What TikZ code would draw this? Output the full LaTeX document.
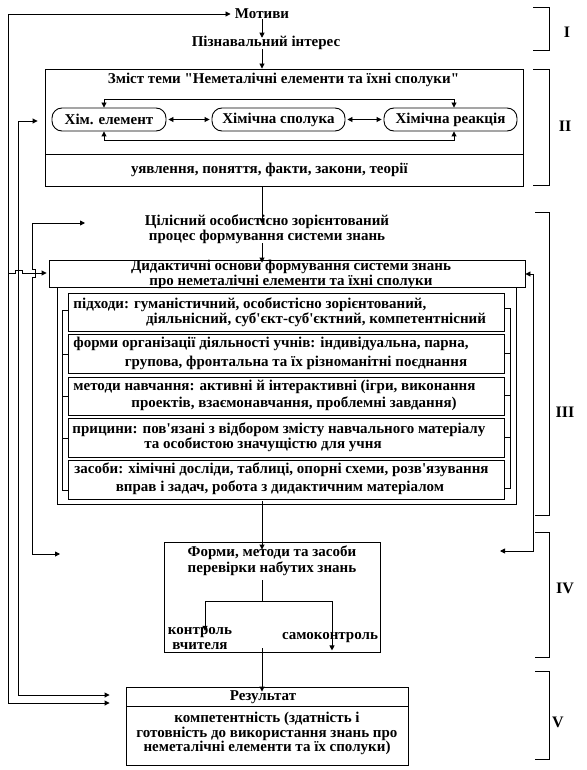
\documentclass[tikz,border=0pt]{standalone}
\usepackage{fontspec}
\setmainfont{Liberation Serif}
\usetikzlibrary{arrows.meta}
\newcommand{\ap}{\textquotesingle}
\begin{document}
\begin{tikzpicture}[x=1pt,y=-1pt,
  font=\bfseries\fontsize{15}{15}\selectfont,
  line width=0.9pt,
  arr/.style={-{Triangle[length=5pt,width=5pt]}},
  darr/.style={{Triangle[length=5pt,width=5pt]}-{Triangle[length=5pt,width=5pt]}},
  txt/.style={inner sep=0pt, align=center},
  ltxt/.style={inner sep=0pt, anchor=west},
  box/.style={draw, inner sep=0pt},
  pill/.style={draw, rounded corners=10pt, inner sep=0pt, minimum height=23pt},
  brk/.style={line width=0.9pt},
  lab/.style={inner sep=0pt, font=\bfseries\fontsize{16}{16}\selectfont}]
\useasboundingbox[fill=white] (0,0) rectangle (586,770);
\coordinate (ax) at (262,0);

% ---- Level I
\node[txt] (mot) at (262,14) {Мотиви};
\node[txt] (piz) at (266,43) {Пізнавальний інтерес};
\draw[arr] (mot.south -| ax) -- ([yshift=-2pt]piz.north -| ax);

% ---- Level II
\node[box, minimum width=478pt, minimum height=117pt] (zm) at (284,127.5) {};
\coordinate (zmdl) at (45,154);
\coordinate (zmdr) at (523,154);
\draw (zmdl) -- (zmdr);
\draw[arr] ([yshift=1pt]piz.south -| ax) -- (zm.north -| ax);
\node[txt] (zmt) at (283.5,80) {Зміст теми \textquotedbl Неметалічні елементи та їхні сполуки\textquotedbl};
\node[pill, minimum width=114pt] (el) at (109,119.5) {Хім. елемент};
\node[pill, minimum width=133pt] (sp) at (278.5,119.5) {Хімічна сполука};
\node[pill, minimum width=133pt] (re) at (450.5,119.5) {Хімічна реакція};
\draw[darr, shorten <=2pt, shorten >=2pt] (el) -- (sp);
\draw[darr, shorten <=2pt, shorten >=2pt] (sp) -- (re);
\coordinate (tl) at (104,99);
\coordinate (tr) at (454,99);
\coordinate (bl) at (104,140);
\coordinate (br) at (454,140);
\draw[darr] (tl |- el.north) -- (tl) -- (tr) -- (tr |- re.north);
\draw[darr] (bl |- el.south) -- (bl) -- (br) -- (br |- re.south);
\node[txt] (uy) at (269.5,170) {уявлення, поняття, факти, закони, теорії};

% ---- Level III
\node[txt] (ts) at (267,229.5) {Цілісний особистісно зорієнтований\\процес формування системи знань};
\draw[arr] (zm.south -| ax) -- ([yshift=-9pt]ts.north -| ax);
\node[box, minimum width=476pt, minimum height=27pt] (dyd) at (287,273.5) {};
\node[txt, font=\bfseries\fontsize{15}{13}\selectfont] (dydt) at (291,274.5) {Дидактичні основи формування системи знань\\про неметалічні елементи та їхні сполуки};
\draw[arr] ([yshift=1pt]ts.south -| ax) -- ([yshift=-3pt]dyd.north -| ax);
\node[box, minimum width=459pt, minimum height=217pt] (fr) at (286.5,395.5) {};

\node[box, minimum width=436pt, minimum height=38pt] (b1) at (286,312) {};
\node[box, minimum width=436pt, minimum height=39pt] (b2) at (286,353.5) {};
\node[box, minimum width=436pt, minimum height=38pt] (b3) at (286,396) {};
\node[box, minimum width=436pt, minimum height=39pt] (b4) at (286,437.5) {};
\node[box, minimum width=436pt, minimum height=39pt] (b5) at (286,479.5) {};

\node[ltxt] (b1a) at (73,305) {підходи: гуманістичний, особистісно зорієнтований,};
\node[txt] (b1b) at (316,320) {діяльнісний, суб\ap єкт-суб\ap єктний, компетентнісний};
\node[ltxt] (b2a) at (73,344) {форми організації діяльності учнів: індивідуальна, парна,};
\node[txt] (b2b) at (296,363) {групова, фронтальна та їх різноманітні поєднання};
\node[ltxt] (b3a) at (73,387) {методи навчання: активні й інтерактивні (ігри, виконання};
\node[txt] (b3b) at (294,404) {проектів, взаємонавчання, проблемні завдання)};
\node[ltxt] (b4a) at (72,430) {прицини: пов\ap язані з відбором змісту навчального матеріалу};
\node[txt] (b4b) at (263,445) {та особистою значущістю для учня};
\node[ltxt] (b5a) at (74,470) {засоби: хімічні досліди, таблиці, опорні схеми, розв\ap язування};
\node[txt] (b5b) at (280,488) {вправ і задач, робота з дидактичним матеріалом};

\coordinate (L1) at (62,310); \coordinate (L2) at (62,354); \coordinate (L3) at (62,396);
\coordinate (L4) at (62,438); \coordinate (L5) at (62,490);
\draw (L1 -| b1.west) -- (L1) -- (L5) -- (L5 -| b5.west);
\draw (L2) -- (L2 -| b2.west);
\draw (L3) -- (L3 -| b3.west);
\draw (L4) -- (L4 -| b4.west);
\coordinate (R1) at (510,308); \coordinate (R2) at (510,353); \coordinate (R3) at (510,395);
\coordinate (R4) at (510,437); \coordinate (R5) at (510,488);
\draw (R1 -| b1.east) -- (R1) -- (R5) -- (R5 -| b5.east);
\draw (R2) -- (R2 -| b2.east);
\draw (R3) -- (R3 -| b3.east);
\draw (R4) -- (R4 -| b4.east);

% ---- Level IV
\node[box, minimum width=216pt, minimum height=110pt] (fm) at (272,597) {};
\draw[arr] ([yshift=3pt]fr.south -| ax) -- ([yshift=-8pt]fm.north -| ax);
\node[txt, font=\bfseries\fontsize{15}{16}\selectfont] (fmt) at (272,561) {Форми, методи та засоби\\перевірки набутих знань};
\node[txt] (kv) at (200,638.5) {контроль\\вчителя};
\node[txt] (sk) at (330,638) {самоконтроль};
\coordinate (fb) at (262,580);
\coordinate (fl) at (205,601);
\coordinate (frr) at (332,601);
\draw (fb) -- (fb |- fl);
\draw[darr] ([yshift=-4pt]kv.north -| fl) -- (fl) -- (frr) -- ([yshift=-18pt]sk.north -| frr);

% ---- Level V
\node[box, minimum width=282pt, minimum height=78pt] (rs) at (267,726) {};
\coordinate (rsdl) at (126,706);
\coordinate (rsdr) at (408,706);
\draw (rsdl) -- (rsdr);
\draw[arr] ([yshift=4pt]fm.south -| ax) -- ([yshift=-5pt]rs.north -| ax);
\node[txt] (rst) at (263,697) {Результат};
\node[txt, font=\bfseries\fontsize{15}{14.5}\selectfont] (rsb) at (267,733.5) {компетентність (здатність і\\готовність до використання знань про\\неметалічні елементи та їх сполуки)};

% ---- feedback lines
\coordinate (A0) at (8,14); \coordinate (A1) at (8,703); \coordinate (A2) at (8,273);
\draw[darr] ([xshift=-4pt]mot.west) -- (A0) -- (A1) -- ([xshift=-16pt]rs.west |- A1);
\draw[arr] (A2) -- (15,273) -- (15,270) -- (22,270) -- (22,273) -- ([xshift=-2pt]dyd.west |- A2);
\coordinate (B0) at (18,121); \coordinate (B1) at (18,695);
\draw[darr] ([xshift=-7pt]zm.west |- B0) -- (B0) -- (B1) -- ([xshift=-16pt]rs.west |- B1);
\coordinate (C0) at (32,223); \coordinate (C1) at (32,554);
\draw[darr] (85,223) -- (C0) -- (32,269) -- (35,269) -- (35,277) -- (32,277) -- (C1) -- (60,554);
\coordinate (D0) at (533,274); \coordinate (D1) at (533,551);
\draw[darr] (dyd.east |- D0) -- (D0) -- (D1) -- (500,551);

% ---- brackets
\draw[brk] (533,7) -- (549,7) -- (549,50) -- (533,50);
\node[lab] (l1) at (567,32) {I};
\draw[brk] (533,69) -- (549,69) -- (549,185) -- (533,185);
\node[lab] (l2) at (565,126) {II};
\draw[brk] (535,212) -- (549,212) -- (549,515) -- (535,515);
\node[lab] (l3) at (565,412) {III};
\draw[brk] (535,532) -- (549,532) -- (549,657) -- (535,657);
\node[lab] (l4) at (565,588) {IV};
\draw[brk] (535,671) -- (549,671) -- (549,759) -- (535,759);
\node[lab] (l5) at (558,722) {V};
\end{tikzpicture}
\end{document}
